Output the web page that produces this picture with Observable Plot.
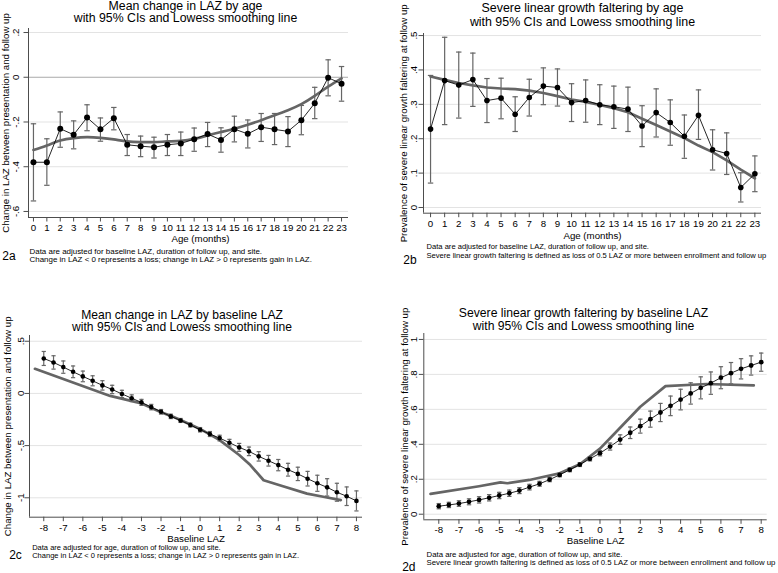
<!DOCTYPE html>
<html><head><meta charset="utf-8">
<script src="https://cdn.jsdelivr.net/npm/d3@7"></script>
<script src="https://cdn.jsdelivr.net/npm/@observablehq/plot@0.6"></script>
<style>
body{margin:0;background:#fff;}
#wrap{position:relative;width:778px;height:573px;overflow:hidden;background:#fff;}
.panel{position:absolute;}
</style></head><body><div id="wrap"></div>
<script>
// ---------- Data ----------
const ageMonths = [0,1,2,3,4,5,6,7,8,9,10,11,12,13,14,15,16,17,18,19,20,21,22,23];
const ageLabels = ["0","1","2","3","4","5","6","7","8","9","10","11","12","13","14","15","16","17","18","19","20","21","22","23"];
const lazTicks = [-8,-7,-6,-5,-4,-3,-2,-1,0,1,2,3,4,5,6,7,8];
const lazLabels = ["-8","-7","-6","-5","-4","-3","-2","-1","0","1","2","3","4","5","6","7","8"];

// 2a: mean change in LAZ by age
const aChange = [-0.380,-0.380,-0.230,-0.257,-0.180,-0.233,-0.183,-0.302,-0.308,-0.313,-0.302,-0.296,-0.277,-0.254,-0.280,-0.232,-0.253,-0.223,-0.233,-0.242,-0.192,-0.116,-0.002,-0.029];
const aLo = [-0.553,-0.483,-0.313,-0.320,-0.239,-0.286,-0.235,-0.350,-0.355,-0.361,-0.350,-0.350,-0.331,-0.310,-0.335,-0.289,-0.316,-0.287,-0.301,-0.310,-0.257,-0.185,-0.083,-0.107];
const aHi = [-0.208,-0.275,-0.155,-0.195,-0.123,-0.182,-0.135,-0.256,-0.263,-0.268,-0.256,-0.245,-0.227,-0.202,-0.226,-0.174,-0.191,-0.162,-0.162,-0.176,-0.126,-0.045,0.078,0.048];
const aLowess = [-0.325,-0.305,-0.283,-0.272,-0.268,-0.271,-0.278,-0.287,-0.290,-0.290,-0.287,-0.284,-0.275,-0.260,-0.245,-0.230,-0.212,-0.192,-0.170,-0.147,-0.120,-0.083,-0.042,-0.005];
const aYTicks = [0.2,0,-0.2,-0.4,-0.6];
const aYLabels = [".2","0","-.2","-.4","-.6"];

// 2b: severe linear growth faltering by age
const bPrev = [0.228,0.369,0.356,0.372,0.311,0.318,0.271,0.320,0.353,0.349,0.305,0.311,0.299,0.293,0.286,0.237,0.276,0.247,0.207,0.268,0.168,0.157,0.058,0.098];
const bLo = [0.071,0.241,0.260,0.294,0.247,0.258,0.221,0.266,0.299,0.295,0.250,0.248,0.241,0.230,0.221,0.177,0.205,0.181,0.143,0.198,0.109,0.096,0.016,0.046];
const bHi = [0.384,0.495,0.452,0.449,0.375,0.376,0.322,0.373,0.406,0.403,0.360,0.371,0.357,0.353,0.350,0.296,0.345,0.313,0.269,0.342,0.226,0.217,0.101,0.150];
const bLowess = [0.381,0.371,0.362,0.355,0.349,0.346,0.344,0.340,0.333,0.324,0.314,0.307,0.298,0.289,0.277,0.258,0.240,0.221,0.202,0.180,0.161,0.137,0.110,0.085];
const bYTicks = [0.5,0.4,0.3,0.2,0.1,0];
const bYLabels = [".5",".4",".3",".2",".1","0"];

// 2c / 2d: by baseline LAZ
const baseLAZ = [-8,-7.5,-7,-6.5,-6,-5.5,-5,-4.5,-4,-3.5,-3,-2.5,-2,-1.5,-1,-0.5,0,0.5,1,1.5,2,2.5,3,3.5,4,4.5,5,5.5,6,6.5,7,7.5,8];
const cChange = [0.335,0.297,0.252,0.207,0.163,0.121,0.077,0.038,-0.005,-0.046,-0.086,-0.131,-0.176,-0.220,-0.259,-0.303,-0.348,-0.389,-0.428,-0.472,-0.517,-0.555,-0.603,-0.645,-0.687,-0.731,-0.771,-0.817,-0.861,-0.900,-0.947,-0.985,-1.030];
const cHalfCI = [0.067,0.064,0.059,0.056,0.051,0.048,0.045,0.040,0.035,0.032,0.029,0.026,0.022,0.021,0.019,0.019,0.021,0.024,0.027,0.032,0.038,0.041,0.045,0.051,0.054,0.061,0.064,0.070,0.077,0.083,0.086,0.089,0.096];
const cLowessX = [-8.45,-4.6,-3.05,-2,-1.5,-1,0,1,2,2.57,3.25,4.2,5.47,6.3,7.2];
const cLowessY = [0.236,-0.024,-0.093,-0.18,-0.215,-0.255,-0.34,-0.447,-0.59,-0.687,-0.832,-0.887,-0.96,-0.99,-1.022];
const cYTicks = [0.5,0,-0.5,-1];
const cYLabels = [".5","0","-.5","-1"];

const dPrev = [0.046,0.053,0.061,0.071,0.082,0.094,0.107,0.120,0.135,0.155,0.174,0.198,0.225,0.254,0.284,0.317,0.349,0.387,0.427,0.466,0.504,0.544,0.582,0.620,0.656,0.691,0.723,0.750,0.781,0.807,0.832,0.851,0.870];
const dHalfCI = [0.015,0.015,0.016,0.017,0.018,0.018,0.018,0.018,0.017,0.016,0.014,0.012,0.011,0.011,0.011,0.012,0.015,0.020,0.027,0.033,0.040,0.046,0.052,0.056,0.059,0.061,0.063,0.064,0.063,0.061,0.058,0.055,0.052];
const dLowessX = [-8.41,-6,-4.94,-4.6,-3.5,-2.95,-2,-1,0,1,2,3.25,5.3,7.63];
const dLowessY = [0.116,0.160,0.182,0.177,0.196,0.210,0.234,0.286,0.375,0.495,0.615,0.733,0.745,0.737];
const dYTicks = [1,0.8,0.6,0.4,0.2,0];
const dYLabels = ["1",".8",".6",".4",".2","0"];

// ---------- Rendering ----------
const AX = "#4d4d4d", ERR = "#666666", LOW = "#656565";
const FONT = "'Liberation Sans', Arial, Helvetica, sans-serif";
const capSymbol = {draw(ctx, size){ const r = Math.sqrt(size/Math.PI); ctx.moveTo(-r,0); ctx.lineTo(r,0); }};

function panel(c){
  const rows = c.x.map((x,i)=>({x, y:c.y[i],
    lo: c.lo ? c.lo[i] : c.y[i]-c.half[i],
    hi: c.hi ? c.hi[i] : c.y[i]+c.half[i]}));
  const low = c.lowX.map((x,i)=>({x, y:c.lowY[i]}));
  const txt = (s, o) => Plot.text([s], {text: d=>d, ...o});
  return Plot.plot({
    width: 389, height: c.height,
    marginLeft: c.ml, marginRight: c.mr, marginTop: c.mt, marginBottom: c.mb,
    x: {domain: c.xDomain, label: null},
    y: {domain: c.yDomain, label: null},
    style: {fontFamily: FONT, background: "white", color: "black", overflow: "visible"},
    marks: [
      Plot.ruleY(c.yTicks.filter(t => !(c.zeroLine && t === 0)), {y: d=>d, stroke: "#e3e3e3", strokeWidth: 1}),
      c.zeroLine ? Plot.ruleY([0], {stroke: "#a9a9a9", strokeWidth: 1}) : null,
      Plot.ruleX([c.xDomain[0]], {stroke: AX, strokeWidth: 1}),
      Plot.ruleY([c.yDomain[0]], {stroke: AX, strokeWidth: 1}),
      Plot.axisY({ticks: c.yTicks, tickSize: 4.5, tickFormat: () => "", stroke: AX, label: null}),
      Plot.text(c.yTicks, {y: d=>d, text: (d,i)=>c.yLabels[i], frameAnchor: "left", dx: c.yTickDx,
        rotate: -90, textAnchor: "middle", lineAnchor: "middle", fontSize: 9.7}),
      Plot.axisX({ticks: c.xTicks, tickSize: 4.5, tickPadding: c.tickPad, stroke: AX, label: null,
        tickFormat: d => c.xLabels[c.xTicks.indexOf(d)], fontSize: 9.7}),
      Plot.ruleX(rows, {x: "x", y1: "lo", y2: "hi", stroke: ERR, strokeWidth: 1.2}),
      Plot.dot(rows, {x: "x", y: "lo", symbol: capSymbol, r: c.capR, stroke: ERR, strokeWidth: 1.2}),
      Plot.dot(rows, {x: "x", y: "hi", symbol: capSymbol, r: c.capR, stroke: ERR, strokeWidth: 1.2}),
      Plot.line(low, {x: "x", y: "y", stroke: LOW, strokeWidth: 2.7, curve: c.curve}),
      Plot.line(rows, {x: "x", y: "y", stroke: "black", strokeWidth: 0.85}),
      Plot.dot(rows, {x: "x", y: "y", r: c.r, fill: "black"}),
      txt(c.title[0], {frameAnchor: "top", dx: c.titleDx, dy: c.titleDy[0], fontSize: c.titleSize, lineAnchor: "middle"}),
      txt(c.title[1], {frameAnchor: "top", dx: c.titleDx, dy: c.titleDy[1], fontSize: c.titleSize, lineAnchor: "middle"}),
      txt(c.xTitle, {frameAnchor: "bottom", dx: c.xTitleDx, dy: c.xTitleDy, fontSize: 9.7, lineAnchor: "middle"}),
      txt(c.yTitle, {frameAnchor: "left", dx: c.yTitleDx, rotate: -90, fontSize: 9.7, textAnchor: "middle", lineAnchor: "middle"}),
      txt(c.notes[0], {frameAnchor: "bottom-left", dx: c.noteDx, dy: c.noteDy[0], fontSize: c.noteSize, textAnchor: "start", lineAnchor: "middle"}),
      txt(c.notes[1], {frameAnchor: "bottom-left", dx: c.noteDx, dy: c.noteDy[1], fontSize: c.noteSize, textAnchor: "start", lineAnchor: "middle"}),
      txt(c.tag, {frameAnchor: "bottom-left", dx: c.tagDx, dy: c.tagDy, fontSize: 12, textAnchor: "middle", lineAnchor: "middle"})
    ]
  });
}

const yTitleChange = "Change in LAZ between presentation and follow up";
const yTitlePrev = "Prevalence of severe linear growth faltering at follow up";
const noteChange = "Change in LAZ < 0 represents a loss; change in LAZ > 0 represents gain in LAZ.";
const noteSevere = "Severe linear growth faltering is defined as loss of 0.5 LAZ or more between enrollment and follow up";
const subTitle = "with 95% CIs and Lowess smoothing line";

const panels = [
  {left: 0, top: 0, cfg: {
    x: ageMonths, y: aChange, lo: aLo, hi: aHi, lowX: ageMonths, lowY: aLowess, curve: "natural",
    height: 286, ml: 28, mr: 41, mt: 28, mb: 69,
    xDomain: [-0.37, 23.52], yDomain: [-0.627, 0.218], zeroLine: true,
    xTicks: ageMonths, xLabels: ageLabels, yTicks: aYTicks, yLabels: aYLabels,
    yTickDx: -12.5, yTitleDx: -22.5, tickPad: 2.5, r: 3, capR: 2.7,
    title: ["Mean change in LAZ by age", subTitle], titleDx: -3, titleDy: [-22.8, -10], titleSize: 12.3,
    xTitle: "Age (months)", xTitleDx: 12, xTitleDy: 21.6, yTitle: yTitleChange,
    notes: ["Data are adjusted for baseline LAZ, duration of follow up, and site.", noteChange],
    noteDx: 1, noteDy: [33.7, 42.3], noteSize: 7.95, tag: "2a", tagDx: -19.5, tagDy: 38.7}},
  {left: 389, top: 0, cfg: {
    x: ageMonths, y: bPrev, lo: bLo, hi: bHi, lowX: ageMonths, lowY: bLowess, curve: "linear",
    height: 286, ml: 34, mr: 17, mt: 33, mb: 73.3,
    xDomain: [-0.5, 23.47], yDomain: [-0.0166, 0.506], zeroLine: false,
    xTicks: ageMonths, xLabels: ageLabels, yTicks: bYTicks, yLabels: bYLabels,
    yTickDx: -9.6, yTitleDx: -19.3, tickPad: 2.8, r: 2.8, capR: 2.7,
    title: ["Severe linear growth faltering by age", subTitle], titleDx: -10, titleDy: [-25, -11.5], titleSize: 12.4,
    xTitle: "Age (months)", xTitleDx: 0, xTitleDy: 22.2, yTitle: yTitlePrev,
    notes: ["Data are adjusted for baseline LAZ, duration of follow up, and site.", noteSevere],
    noteDx: 3, noteDy: [33.8, 41.9], noteSize: 7.6, tag: "2b", tagDx: -13.5, tagDy: 47.3}},
  {left: 0, top: 286, cfg: {
    x: baseLAZ, y: cChange, half: cHalfCI, lowX: cLowessX, lowY: cLowessY, curve: "linear",
    height: 287, ml: 29, mr: 27, mt: 49, mb: 56.3,
    xDomain: [-8.73, 8.31], yDomain: [-1.186, 0.555], zeroLine: false,
    xTicks: lazTicks, xLabels: lazLabels, yTicks: cYTicks, yLabels: cYLabels,
    yTickDx: -8.8, yTitleDx: -21.5, tickPad: 2.6, r: 2.3, capR: 2.1,
    title: ["Mean change in LAZ by baseline LAZ", subTitle], titleDx: -14, titleDy: [-20.6, -8], titleSize: 12.1,
    xTitle: "Baseline LAZ", xTitleDx: 0, xTitleDy: 21.4, yTitle: yTitleChange,
    notes: ["Data are adjusted for age, duration of follow up, and site.", noteChange],
    noteDx: 2.7, noteDy: [30.8, 38.8], noteSize: 7.5, tag: "2c", tagDx: -14, tagDy: 38.3}},
  {left: 389, top: 286, cfg: {
    x: baseLAZ, y: dPrev, half: dHalfCI, lowX: dLowessX, lowY: dLowessY, curve: "linear",
    height: 287, ml: 34.3, mr: 11.3, mt: 47, mb: 53.7,
    xDomain: [-8.744, 8.298], yDomain: [-0.032, 1.034], zeroLine: false,
    xTicks: lazTicks, xLabels: lazLabels, yTicks: dYTicks, yLabels: dYLabels,
    yTickDx: -10, yTitleDx: -19.3, tickPad: 2.3, r: 2.4, capR: 2.2,
    title: ["Severe linear growth faltering by baseline LAZ", subTitle], titleDx: -12, titleDy: [-20.6, -7.9], titleSize: 12.2,
    xTitle: "Baseline LAZ", xTitleDx: 0, xTitleDy: 21, yTitle: yTitlePrev,
    notes: ["Data are adjusted for age, duration of follow up, and site.", noteSevere],
    noteDx: 2.7, noteDy: [34.2, 42.3], noteSize: 7.8, tag: "2d", tagDx: -15, tagDy: 47.3}}
];

const wrap = document.getElementById("wrap");
for (const p of panels) {
  const div = document.createElement("div");
  div.className = "panel";
  div.style.left = p.left + "px";
  div.style.top = p.top + "px";
  div.appendChild(panel(p.cfg));
  wrap.appendChild(div);
}
</script></body></html>
